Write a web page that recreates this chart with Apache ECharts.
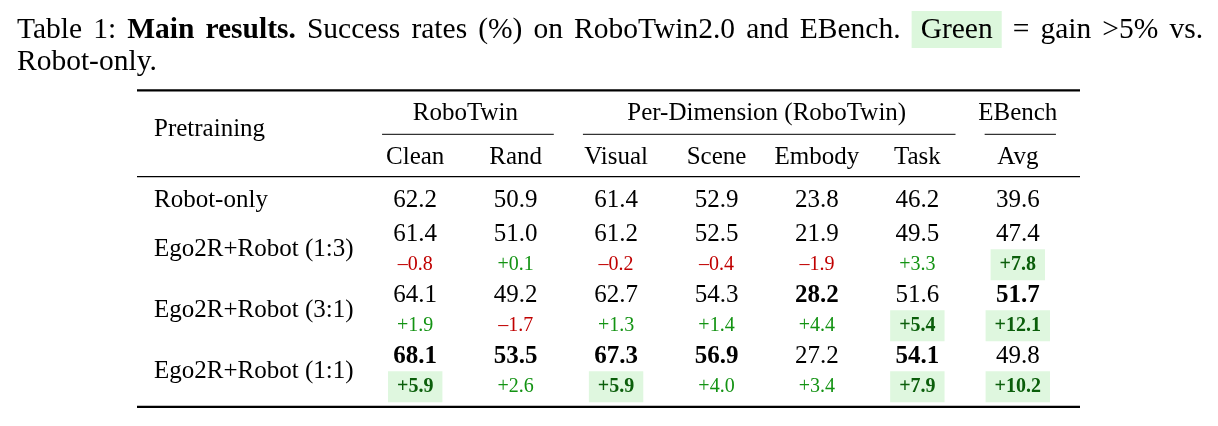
<!DOCTYPE html>
<html><head><meta charset="utf-8">
<script src="https://cdn.jsdelivr.net/npm/echarts@6/dist/echarts.min.js"></script>
<style>html,body{margin:0;padding:0;background:#fff}#c{width:1218px;height:426px}</style>
</head><body><div id="c"></div>
<script>
// ---- data ----
const columns = ['Clean', 'Rand', 'Visual', 'Scene', 'Embody', 'Task', 'Avg'];
const groups = ['RoboTwin', 'Per-Dimension (RoboTwin)', 'EBench'];
const groupSpans = [[0, 1], [2, 5], [6, 6]];
const methods = ['Robot-only', 'Ego2R+Robot (1:3)', 'Ego2R+Robot (3:1)', 'Ego2R+Robot (1:1)'];
const robotOnly = [62.2, 50.9, 61.4, 52.9, 23.8, 46.2, 39.6];
const ego13 = [61.4, 51.0, 61.2, 52.5, 21.9, 49.5, 47.4];
const ego31 = [64.1, 49.2, 62.7, 54.3, 28.2, 51.6, 51.7];
const ego11 = [68.1, 53.5, 67.3, 56.9, 27.2, 54.1, 49.8];
const delta13 = [-0.8, 0.1, -0.2, -0.4, -1.9, 3.3, 7.8];
const delta31 = [1.9, -1.7, 1.3, 1.4, 4.4, 5.4, 12.1];
const delta11 = [5.9, 2.6, 5.9, 4.0, 3.4, 7.9, 10.2];
const rowKeys = ['r0', 'r1', 'd1', 'r2', 'd2', 'r3', 'd3'];
const highlightThreshold = 5;
const captionLine1 = [
  { t: 'Table' }, { t: '1:' }, { t: 'Main', b: true }, { t: 'results.', b: true },
  { t: 'Success' }, { t: 'rates' }, { t: '(%)' }, { t: 'on' }, { t: 'RoboTwin2.0' },
  { t: 'and' }, { t: 'EBench.' }, { t: 'Green', box: true }, { t: '=' }, { t: 'gain' },
  { t: '>5%' }, { t: 'vs.' }
];
const captionLine2 = 'Robot-only.';

const values = [robotOnly, ego13, ego31, ego11];
const deltas = [null, delta13, delta31, delta11];

const FONT = '"Liberation Serif", "Times New Roman", serif';
const RED = '#c00000', GREEN = '#139313', DKGREEN = '#0b5e0b', HIBG = '#dff7df';
const FIRST_ROW_LIFT = 3; // single-line first body row sits a little higher

const colMax = columns.map((c, i) => Math.max(...values.map(v => v[i])));

const mainData = [];
values.forEach((arr, m) => {
  const row = m === 0 ? 0 : 2 * m - 1;
  arr.forEach((v, i) => mainData.push({
    value: [i, row, v], bold: v === colMax[i],
    label: m === 0 ? { offset: [0, -FIRST_ROW_LIFT] } : undefined
  }));
});
const deltaData = [];
deltas.forEach((arr, m) => {
  if (!arr) return;
  arr.forEach((d, i) => deltaData.push({ value: [i, 2 * m, d] }));
});

const chart = echarts.init(document.getElementById('c'), null, { renderer: 'canvas' });

chart.setOption({
  animation: false,
  backgroundColor: '#fff',
  textStyle: { fontFamily: FONT },
  grid: { left: 365, top: 188.3, width: 703, height: 213.8 },
  xAxis: {
    type: 'category', data: columns, position: 'top',
    axisLine: { show: false }, axisTick: { show: false }, splitLine: { show: false },
    axisLabel: { fontSize: 25, fontFamily: FONT, color: '#000', margin: 18.3, interval: 0 }
  },
  yAxis: { type: 'category', data: rowKeys, inverse: true, show: false },
  series: [
    {
      type: 'scatter', symbolSize: 0, data: mainData, silent: true,
      itemStyle: { opacity: 1 },
      label: {
        show: true, position: 'inside', color: '#000', fontSize: 25, fontFamily: FONT,
        formatter: p => p.data.bold ? '{b|' + p.value[2].toFixed(1) + '}' : '{n|' + p.value[2].toFixed(1) + '}',
        rich: {
          n: { fontSize: 25, fontFamily: FONT, color: '#000' },
          b: { fontSize: 25, fontFamily: FONT, color: '#000', fontWeight: 'bold' }
        }
      }
    },
    {
      type: 'scatter', symbolSize: 0, data: deltaData, silent: true,
      itemStyle: { opacity: 1 },
      label: {
        show: true, position: 'inside', fontSize: 20, fontFamily: FONT,
        formatter: p => {
          const d = p.value[2];
          const s = (d < 0 ? '\u2013' : '+') + Math.abs(d).toFixed(1);
          if (d > highlightThreshold) return '{hi|' + s + '}';
          return d < 0 ? '{neg|' + s + '}' : '{pos|' + s + '}';
        },
        rich: {
          pos: { fontSize: 20, fontFamily: FONT, color: GREEN },
          neg: { fontSize: 20, fontFamily: FONT, color: RED },
          hi: { fontSize: 20, fontFamily: FONT, color: DKGREEN, fontWeight: 'bold',
                backgroundColor: HIBG, padding: [5.5, 9, 5.5, 9], lineHeight: 20 }
        }
      }
    }
  ]
});

// ---- table furniture positioned from the axes ----
const P = (c, r) => chart.convertToPixel({ gridIndex: 0 }, [c, r]);
const x0 = P(0, 0)[0], x1 = P(1, 0)[0];
const bw = x1 - x0;
const y0 = P(0, 0)[1], y1 = P(0, 1)[1];
const step = y1 - y0;
const gridTop = y0 - step / 2;
const gridBottom = P(0, rowKeys.length - 1)[1] + step / 2;
const tableLeft = 137;
const tableRight = P(columns.length - 1, 0)[0] + bw / 2 + 12;

const g = [];
const hline = (xa, xb, y, w) => g.push({ type: 'line', shape: { x1: xa, y1: y, x2: xb, y2: y }, style: { stroke: '#000', lineWidth: w }, silent: true });
const txt = (x, y, text, align, size, extra) => g.push({ type: 'text', x, y, silent: true,
  style: Object.assign({ text, fill: '#000', font: (size || 25) + 'px ' + FONT, textAlign: align, textVerticalAlign: 'middle', align, verticalAlign: 'middle' }, extra || {}) });

hline(tableLeft, tableRight, gridTop - 98, 2.2);
hline(tableLeft, tableRight, gridTop - 11.6, 1.3);
hline(tableLeft, tableRight, gridBottom + 4.8, 2.2);

groups.forEach((name, k) => {
  const [a, b] = groupSpans[k];
  const xa = P(a, 0)[0], xb = P(b, 0)[0];
  txt((xa + xb) / 2, gridTop - 74.6, name, 'center');
  hline(xa - 0.33 * bw, xb + 0.38 * bw, gridTop - 54, 1);
});
txt(tableLeft + 17, gridTop - 59.3, 'Pretraining', 'left');

methods.forEach((name, m) => {
  const y = m === 0 ? P(0, 0)[1] - FIRST_ROW_LIFT : (P(0, 2 * m - 1)[1] + P(0, 2 * m)[1]) / 2;
  txt(tableLeft + 17, y, name, 'left');
});

// ---- caption, justified across the text width ----
const CAP = 29.5, capLeft = 17, capRight = 1203, boxPad = 9;
const ctx = document.createElement('canvas').getContext('2d');
const fontOf = w => (w.b ? 'bold ' : '') + CAP + 'px ' + FONT;
const widths = captionLine1.map(w => { ctx.font = fontOf(w); return ctx.measureText(w.t).width + (w.box ? 2 * boxPad : 0); });
const natural = widths.reduce((a, b) => a + b, 0);
const gap = (capRight - capLeft - natural) / (captionLine1.length - 1);
let cx = capLeft;
captionLine1.forEach((w, i) => {
  if (w.box) {
    g.push({ type: 'rect', silent: true, shape: { x: cx, y: 11, width: widths[i], height: 37 }, style: { fill: '#dcf7dc' } });
    txt(cx + boxPad, 30.5, w.t, 'left', CAP);
  } else {
    txt(cx, 30.5, w.t, 'left', CAP, w.b ? { font: 'bold ' + CAP + 'px ' + FONT } : null);
  }
  cx += widths[i] + gap;
});
txt(capLeft, 62.5, captionLine2, 'left', CAP);

chart.setOption({ graphic: g });
</script></body></html>
